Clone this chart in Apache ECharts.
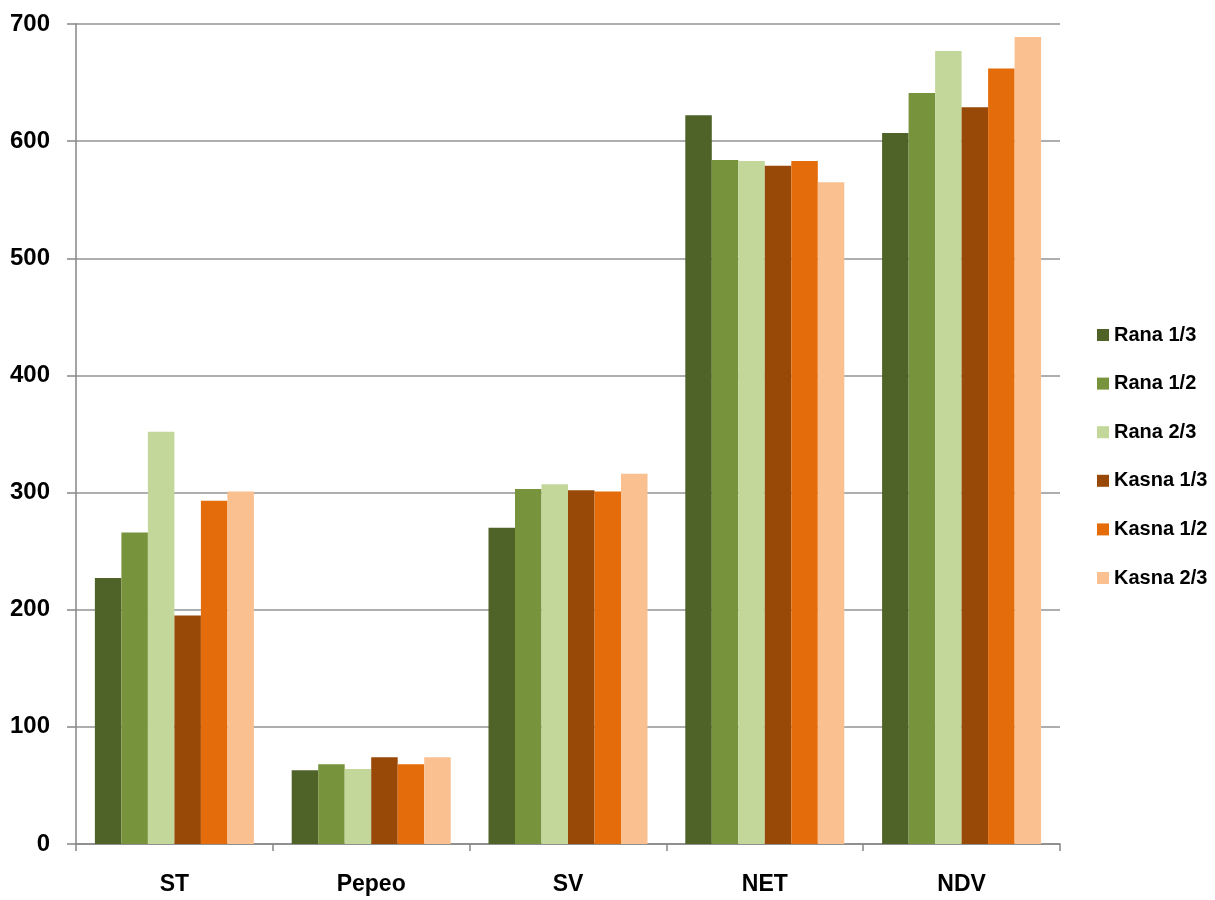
<!DOCTYPE html>
<html>
<head>
<meta charset="utf-8">
<script src="https://cdn.jsdelivr.net/npm/echarts@6/dist/echarts.min.js"></script>
<style>
html,body{margin:0;padding:0;background:#fff;}
#chart{width:1215px;height:900px;}
</style>
</head>
<body>
<div id="chart"></div>
<script>
const categories = ['ST', 'Pepeo', 'SV', 'NET', 'NDV'];
const seriesNames = ['Rana 1/3', 'Rana 1/2', 'Rana 2/3', 'Kasna 1/3', 'Kasna 1/2', 'Kasna 2/3'];
const rana13 = [227, 63, 270, 622, 607];
const rana12 = [266, 68, 303, 584, 641];
const rana23 = [352, 64, 307, 583, 677];
const kasna13 = [195, 74, 302, 579, 629];
const kasna12 = [293, 68, 301, 583, 662];
const kasna23 = [301, 74, 316, 565, 689];
const yTicks = [0, 100, 200, 300, 400, 500, 600, 700];

const colors = ['#4F6228', '#77933C', '#C4D79B', '#984807', '#E46C0A', '#FAC090'];
const values = [rana13, rana12, rana23, kasna13, kasna12, kasna23];
const fontFam = "'Liberation Sans Narrow', 'Arial Narrow', 'Liberation Sans', Arial, sans-serif";

const chart = echarts.init(document.getElementById('chart'));
chart.setOption({
  animation: false,
  backgroundColor: '#ffffff',
  color: colors,
  grid: { left: 76, right: 155, top: 24, bottom: 56, containLabel: false },
  legend: {
    orient: 'vertical',
    left: 1097,
    top: 325,
    padding: 0,
    itemWidth: 12,
    itemHeight: 12,
    itemGap: 28.6,
    icon: 'rect',
    data: seriesNames,
    textStyle: { fontFamily: fontFam, fontWeight: 'bold', fontSize: 20, color: '#000', lineHeight: 20 }
  },
  xAxis: {
    type: 'category',
    data: categories,
    axisLine: { show: true, lineStyle: { color: '#868686', width: 1.5 } },
    axisTick: { show: true, length: 7, inside: false, lineStyle: { color: '#868686', width: 1.5 } },
    axisLabel: { margin: 29, fontFamily: fontFam, fontWeight: 'bold', fontSize: 23, color: '#000' },
    splitLine: { show: false }
  },
  yAxis: {
    type: 'value',
    min: yTicks[0],
    max: yTicks[yTicks.length - 1],
    interval: 100,
    axisLine: { show: true, lineStyle: { color: '#868686', width: 1.5 } },
    axisTick: { show: true, length: 9, lineStyle: { color: '#868686', width: 1.5 } },
    axisLabel: { margin: 26, fontFamily: fontFam, fontWeight: 'bold', fontSize: 24, color: '#000' },
    splitLine: { show: true, lineStyle: { color: '#939393', width: 1.5 } }
  },
  series: seriesNames.map((name, i) => ({
    name: name,
    type: 'bar',
    data: values[i],
    barGap: '0%',
    barCategoryGap: '19.2%',
    itemStyle: { color: colors[i] }
  }))
});
</script>
</body>
</html>
